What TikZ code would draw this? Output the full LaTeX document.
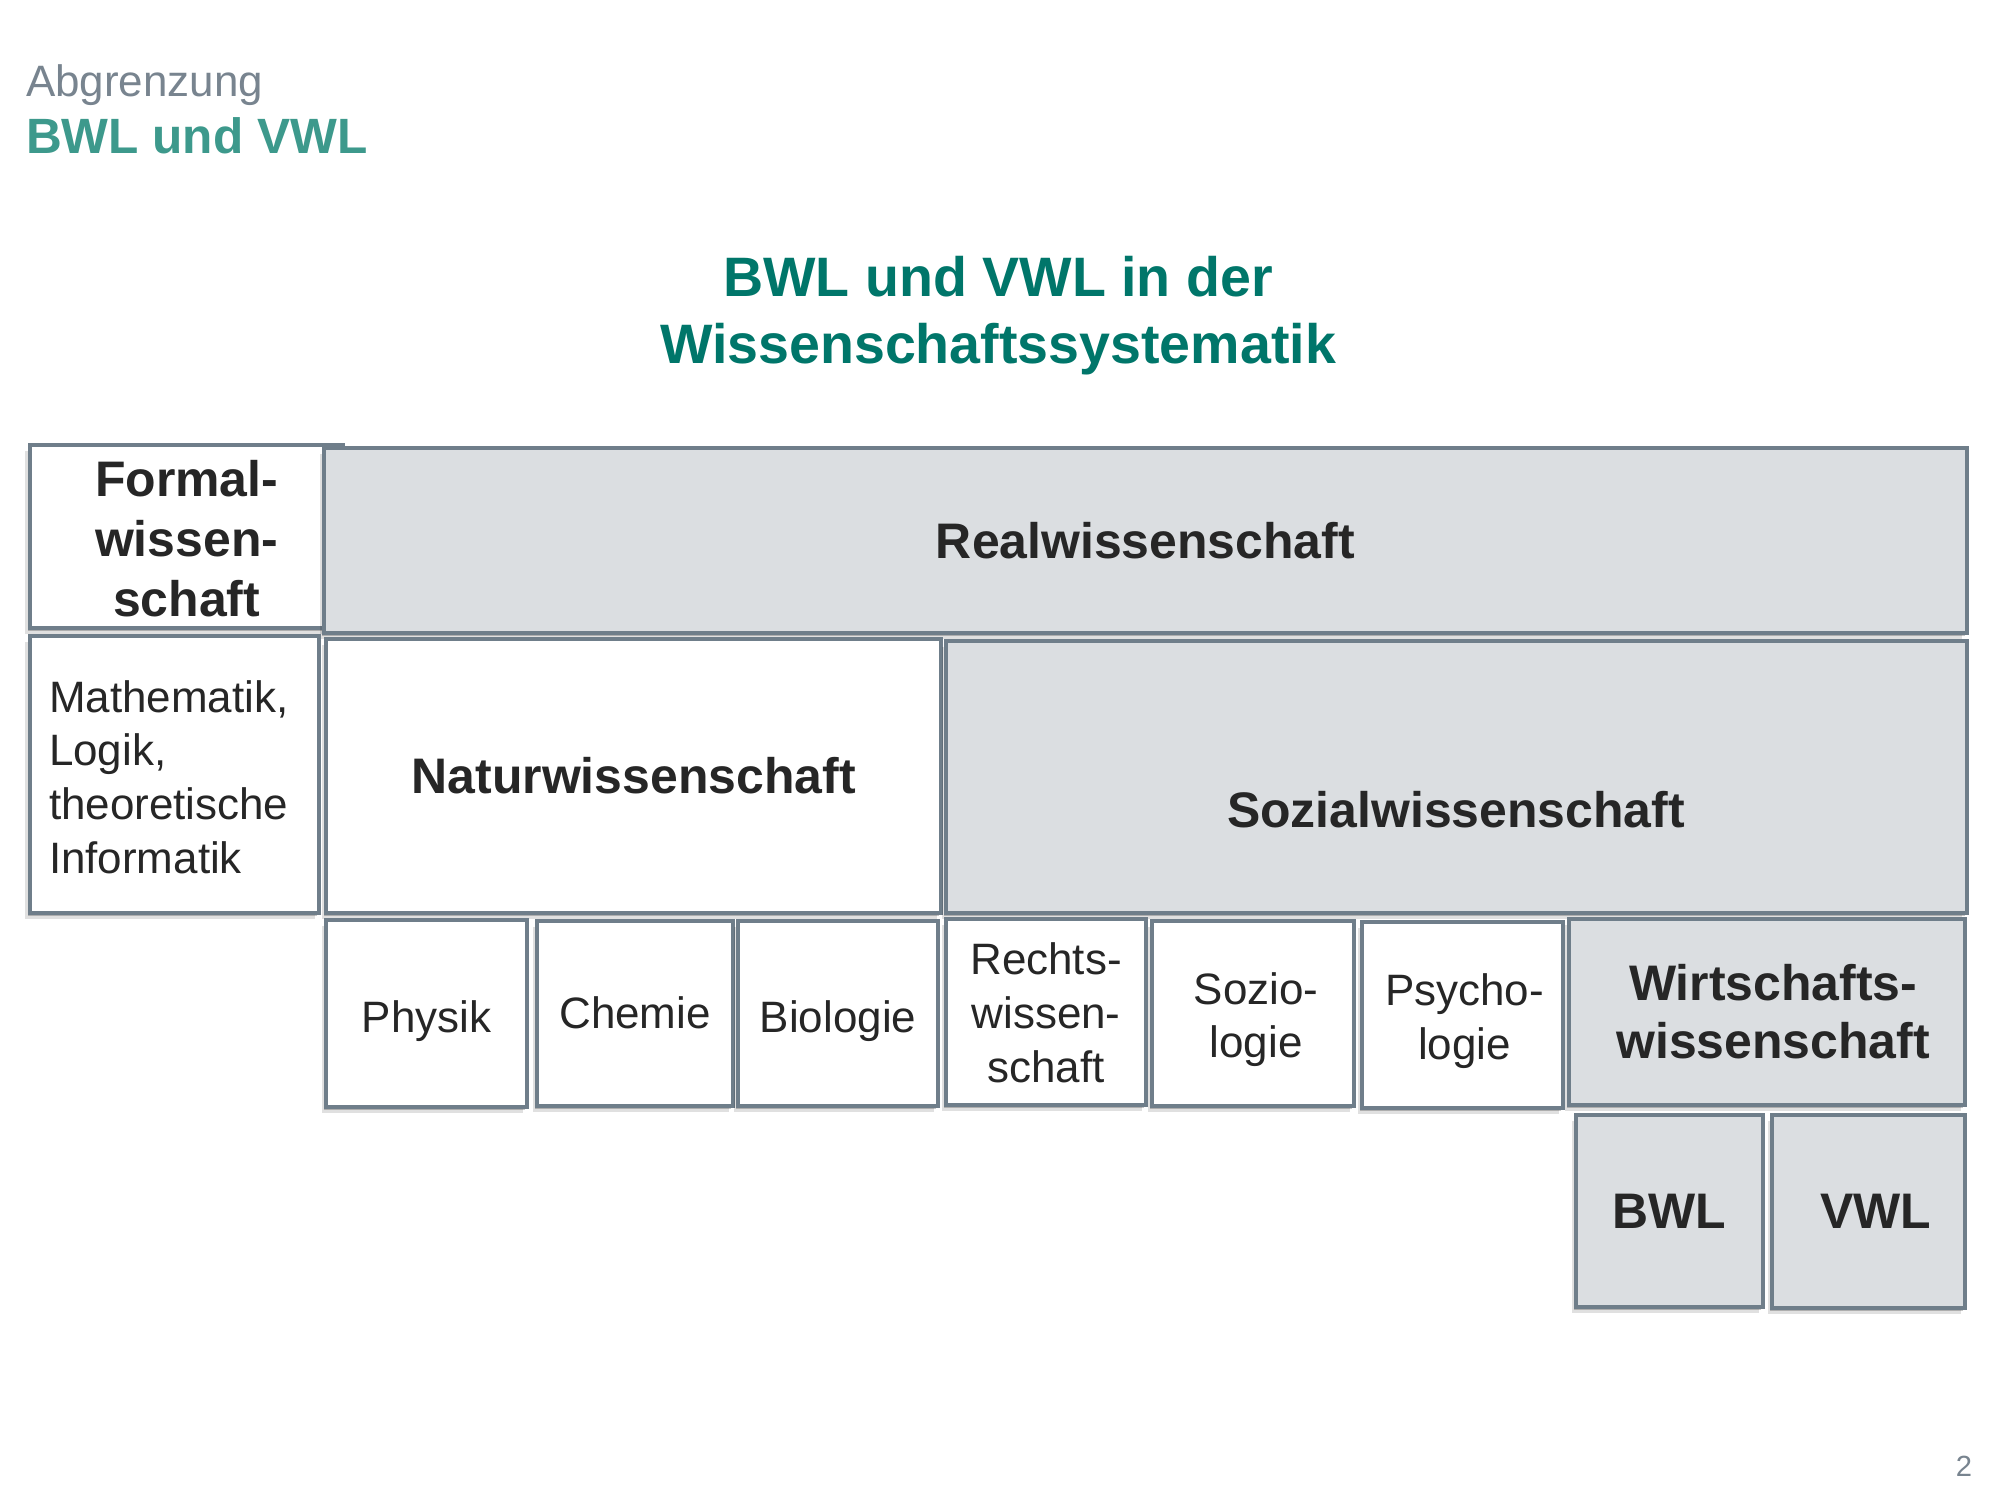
\documentclass[tikz,border=0pt]{standalone}
\usepackage{fontspec}
\setmainfont{Liberation Sans}
\usetikzlibrary{shadows}

\definecolor{frame}{HTML}{6F7E8A}
\definecolor{cellgray}{HTML}{DBDEE1}
\definecolor{ink}{HTML}{262626}
\definecolor{titleteal}{HTML}{00766A}
\definecolor{headteal}{HTML}{3D998C}
\definecolor{subgray}{HTML}{78848F}

\tikzset{
  softshadow/.style={
    drop shadow={shadow xshift=-0.2mm, shadow yshift=-0.3mm, opacity=0.22, fill=black},
    drop shadow={shadow xshift=-0.45mm, shadow yshift=-0.6mm, opacity=0.12, fill=black}},
  cell/.style={rectangle, draw=frame, line width=0.4mm, fill=white, softshadow,
    inner sep=0pt, outer sep=0pt, text=ink, align=center},
  graycell/.style={cell, fill=cellgray},
  boldtxt/.style={font=\fontsize{14.2}{17}\selectfont\bfseries},
  plaintxt/.style={font=\fontsize{12.5}{15.3}\selectfont},
  txt/.style={inner sep=0pt, outer sep=0pt, text=ink, align=center},
}

% box from (x1,y1) to (x2,y2) in pixel units, outer edge of the frame
\newcommand\cellbox[6]{%
  \node[#1, minimum width={(#5-#3-4)*0.1mm}, minimum height={(#6-#4-4)*0.1mm},
        anchor=north west] (#2) at (#3+2,#4+2) {};}

\begin{document}
\begin{tikzpicture}[x=0.01cm, y=-0.01cm]
\useasboundingbox[fill=white] (0,0) rectangle (2000,1500);

% heading
\node[txt, anchor=base west, font=\fontsize{12.5}{15}\selectfont, text=subgray]
  (kicker) at (26,97) {Abgrenzung};
\node[txt, anchor=base west, font=\fontsize{14.1}{17}\selectfont\bfseries, text=headteal]
  (head) at (26,153) {BWL und VWL};
\node[txt, font=\fontsize{15.8}{19}\selectfont\bfseries, text=titleteal]
  (title) at (998,316) {BWL und VWL in der\\Wissenschaftssystematik};

% top level
\cellbox{cell}{formal}{28}{443}{345}{630}
\node[txt, boldtxt] (formaltext) at ([yshift=-0.2mm]formal.center) {Formal-\\wissen-\\schaft};
\cellbox{graycell}{real}{322}{446}{1968}{635}
\node[txt, boldtxt] (realtext) at (real.center) {Realwissenschaft};

% second level
\cellbox{cell}{mathbox}{28}{634}{321}{915}
\node[txt, plaintxt, align=left, anchor=west] (mathtext) at (49,777)
  {Mathematik,\\Logik,\\theoretische\\Informatik};
\cellbox{cell}{natur}{324}{637}{943}{915}
\node[txt, boldtxt] (naturtext) at (natur.center) {Naturwissenschaft};
\cellbox{graycell}{sozial}{944}{639}{1968}{915}
\node[txt, boldtxt] (sozialtext) at (1456,810) {Sozialwissenschaft};

% disciplines
\cellbox{cell}{physik}{324}{918}{529}{1109}
\node[txt, plaintxt] (physiktext) at ([yshift=-0.8mm]physik.center) {Physik};
\cellbox{cell}{chemie}{535}{919}{735}{1108}
\node[txt, plaintxt] (chemietext) at ([yshift=0.1mm]chemie.center) {Chemie};
\cellbox{cell}{bio}{736}{919}{940}{1108}
\node[txt, plaintxt] (biotext) at ([yshift=-0.8mm]bio.center) {Biologie};
\cellbox{cell}{recht}{944}{917}{1148}{1107}
\node[txt, plaintxt] (rechttext) at ([yshift=-0.1mm]recht.center) {Rechts-\\wissen-\\schaft};
\cellbox{cell}{sozio}{1150}{919}{1356}{1108}
\node[txt, plaintxt] (soziotext) at ([xshift=0.3mm,yshift=-0.6mm]sozio.center) {Sozio-\\logie};
\cellbox{cell}{psycho}{1360}{920}{1565}{1110}
\node[txt, plaintxt] (psychotext) at ([xshift=0.2mm,yshift=-0.6mm]psycho.center) {Psycho-\\logie};
\cellbox{graycell}{wiwi}{1567}{917}{1967}{1107}
\node[txt, font=\fontsize{14.2}{16.5}\selectfont\bfseries] (wiwitext)
  at ([xshift=0.6mm]wiwi.center) {Wirtschafts-\\wissenschaft};

% economics
\cellbox{graycell}{bwl}{1574}{1113}{1765}{1309}
\node[txt, boldtxt] (bwltext) at (bwl.center) {BWL};
\cellbox{graycell}{vwl}{1770}{1113}{1967}{1310}
\node[txt, boldtxt] (vwltext) at ([xshift=0.7mm]vwl.center) {VWL};

% page number
\node[txt, anchor=base east, font=\fontsize{8.3}{10}\selectfont, text=subgray]
  (pagenum) at (1972,1476) {2};
\end{tikzpicture}
\end{document}
